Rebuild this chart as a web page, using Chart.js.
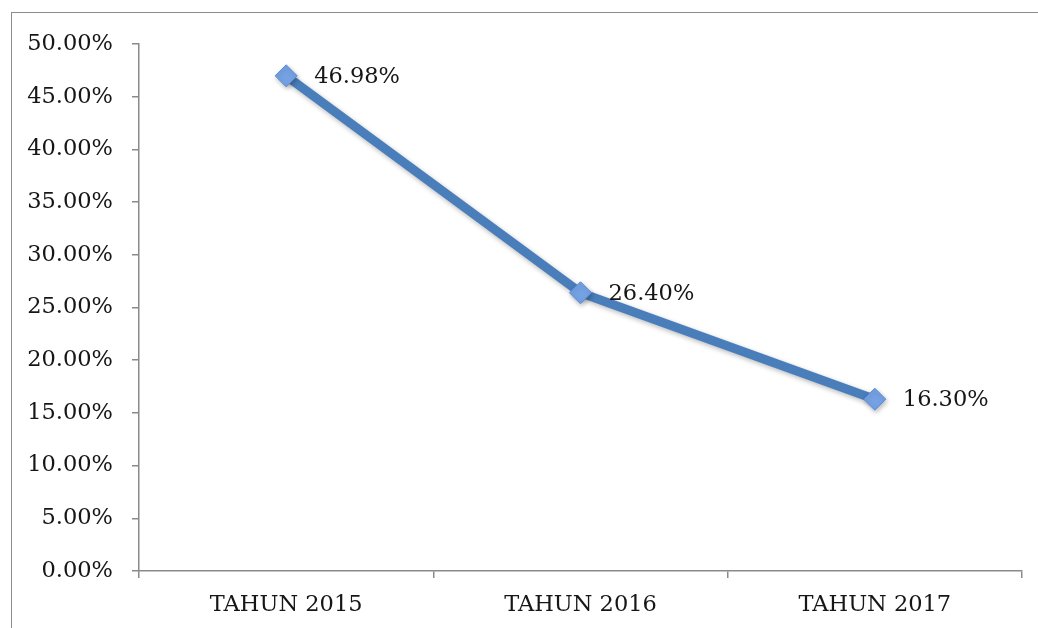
<!DOCTYPE html>
<html>
<head>
<meta charset="utf-8">
<script src="https://cdn.jsdelivr.net/npm/chart.js@4/dist/chart.umd.min.js"></script>
<style>
  html, body { margin: 0; padding: 0; background: #fff; overflow: hidden; }
  #wrap { position: relative; width: 1038px; height: 628px; }
  #frame { position: absolute; left: 11px; top: 12px; width: 1100px; height: 700px; border: 1.5px solid #8c8c8c; }
  #myChart { position: absolute; left: 0; top: 0; }
</style>
</head>
<body>
<div id="wrap">
  <div id="frame"></div>
  <canvas id="myChart" width="1038" height="628"></canvas>
</div>
<script>
// data
const categories = ['TAHUN 2015', 'TAHUN 2016', 'TAHUN 2017'];
const values = [46.98, 26.40, 16.30];
const yTicks = [0, 5, 10, 15, 20, 25, 30, 35, 40, 45, 50];

const fontFamily = '"DejaVu Serif", serif';
const textColor = '#161616';
const axisColor = '#8a8a8a';

// draws the value beside each point
const pointLabels = {
    id: 'pointLabels',
    afterDatasetsDraw(chart) {
        const ctx = chart.ctx;
        const meta = chart.getDatasetMeta(0);
        ctx.save();
        ctx.font = '22.5px ' + fontFamily;
        ctx.fillStyle = textColor;
        ctx.textAlign = 'left';
        ctx.textBaseline = 'middle';
        meta.data.forEach(function (pt, i) {
            ctx.fillText(values[i].toFixed(2) + '%', pt.x + 28, pt.y + 1);
        });
        ctx.restore();
    }
};

// soft drop shadow like the office chart
const shadow = {
    id: 'shadow',
    beforeDatasetsDraw(chart) {
        const ctx = chart.ctx;
        ctx.save();
        ctx.shadowColor = 'rgba(0,0,0,0.28)';
        ctx.shadowBlur = 5;
        ctx.shadowOffsetX = 1;
        ctx.shadowOffsetY = 2;
    },
    afterDatasetsDraw(chart) {
        chart.ctx.restore();
    }
};

document.addEventListener('DOMContentLoaded', function () {
    let chartCanvas = document.getElementById('myChart');

    new Chart(chartCanvas, {
        type: 'line',
        data: {
            labels: categories,
            datasets: [{
                data: values,
                borderColor: '#4a7ebb',
                borderWidth: 9,
                tension: 0,
                pointStyle: 'rectRot',
                pointRadius: 11,
                pointBackgroundColor: '#75a2e4',
                pointBorderColor: '#5b8cd8',
                pointBorderWidth: 1
            }]
        },
        options: {
            responsive: false,
            animation: false,
            events: [],
            layout: { padding: { top: 44, right: 16, left: 0, bottom: 0 } },
            plugins: {
                legend: { display: false },
                tooltip: { enabled: false }
            },
            scales: {
                x: {
                    offset: true,
                    grid: {
                        offset: true,
                        drawOnChartArea: false,
                        drawTicks: true,
                        tickLength: 7,
                        color: axisColor,
                        lineWidth: 1.5
                    },
                    border: { color: axisColor, width: 1.5 },
                    ticks: {
                        padding: 14,
                        color: textColor,
                        font: { family: fontFamily, size: 22.5 },
                        maxRotation: 0
                    },
                    afterFit: function (scale) { scale.height = 57; }
                },
                y: {
                    min: 0,
                    max: 50,
                    afterBuildTicks: function (scale) {
                        scale.ticks = yTicks.map(function (v) { return { value: v }; });
                    },
                    grid: {
                        drawOnChartArea: false,
                        drawTicks: true,
                        tickLength: 7,
                        color: axisColor,
                        lineWidth: 1.5
                    },
                    border: { color: axisColor, width: 1.5 },
                    ticks: {
                        padding: 19,
                        color: textColor,
                        font: { family: fontFamily, size: 22.5 },
                        callback: function (v) { return v.toFixed(2) + '%'; }
                    },
                    afterFit: function (scale) { scale.width = 139; }
                }
            }
        },
        plugins: [shadow, pointLabels]
    });
});
</script>
</body>
</html>
